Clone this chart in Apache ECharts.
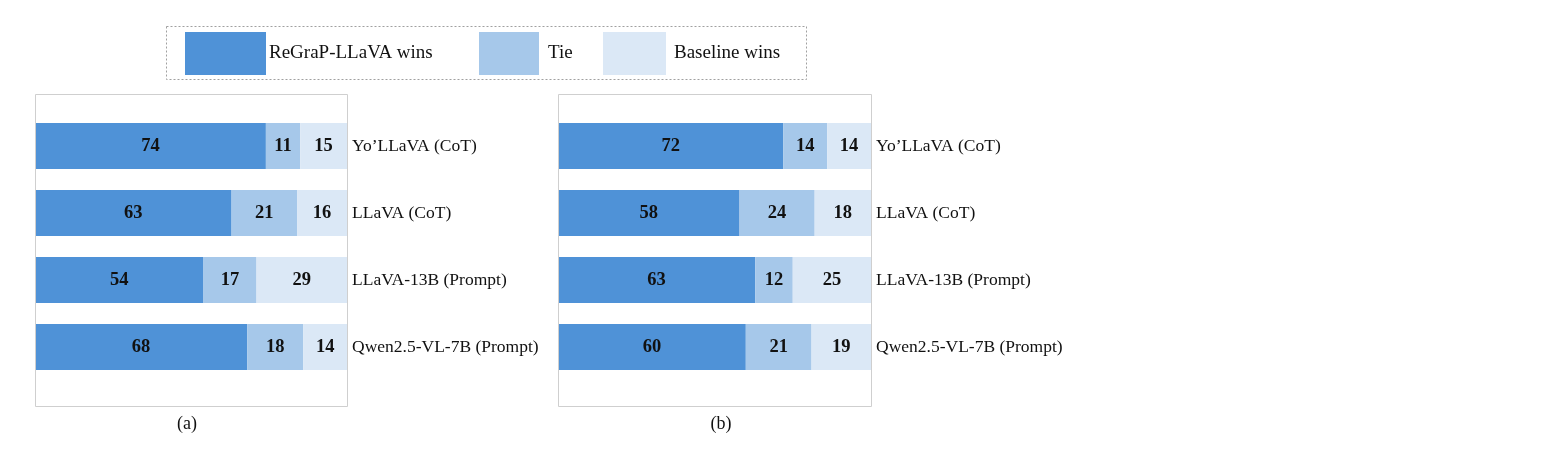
<!DOCTYPE html>
<html>
<head>
<meta charset="utf-8">
<script src="https://cdn.jsdelivr.net/npm/echarts@6/dist/echarts.min.js"></script>
<style>html,body{margin:0;padding:0;background:#fff;}#c{width:1561px;height:455px;}</style>
</head>
<body>
<div id="c"></div>
<script>
const categories = ["Yo\u2019LLaVA (CoT)", "LLaVA (CoT)", "LLaVA-13B (Prompt)", "Qwen2.5-VL-7B (Prompt)"];
const seriesNames = ["ReGraP-LLaVA wins", "Tie", "Baseline wins"];
const winsA = [74, 63, 54, 68];
const tieA = [11, 21, 17, 18];
const baseA = [15, 16, 29, 14];
const winsB = [72, 58, 63, 60];
const tieB = [14, 24, 12, 21];
const baseB = [14, 18, 25, 19];
const panelLabels = ["(a)", "(b)"];

const colors = ["#4f92d7", "#a6c8ea", "#dbe8f6"];
const FONT = "Liberation Serif";

const panels = [
  {left: 35, width: 312, data: [winsA, tieA, baseA]},
  {left: 558, width: 313, data: [winsB, tieB, baseB]}
];
const gridTop = 112.5, gridH = 268;

const grids = [], xAxes = [], yAxes = [], series = [], graphics = [];
panels.forEach((p, i) => {
  grids.push({left: p.left, width: p.width, top: gridTop, height: gridH, containLabel: false});
  xAxes.push({type: 'value', gridIndex: i, min: 0, max: 100, show: false});
  yAxes.push({type: 'category', gridIndex: i, data: categories, inverse: true, position: 'right',
    axisLine: {show: false}, axisTick: {show: false}, splitLine: {show: false},
    axisLabel: {margin: 5, color: '#111', fontFamily: FONT, fontSize: 17.5, align: 'left'}});
  p.data.forEach((vals, k) => {
    series.push({type: 'bar', name: seriesNames[k], xAxisIndex: i, yAxisIndex: i, stack: 'p' + i,
      data: vals, barWidth: 46, itemStyle: {color: colors[k]},
      label: {show: true, position: 'inside', color: '#111', fontFamily: FONT, fontWeight: 'bold', fontSize: 18.5},
      emphasis: {disabled: true}});
  });
  graphics.push({type: 'rect', shape: {x: p.left + 0.5, y: 94.5, width: p.width, height: 312},
    style: {fill: null, stroke: '#cfcfcf', lineWidth: 1}, z: 10});
});
graphics.push({type: 'rect', shape: {x: 166.5, y: 26.5, width: 640, height: 53},
  style: {fill: null, stroke: '#a0a0a0', lineWidth: 1, lineDash: [2, 2]}, z: 10});

const legendText = {color: '#111', fontFamily: FONT, fontSize: 19};
const option = {
  backgroundColor: '#fff',
  animation: false,
  grid: grids,
  xAxis: xAxes,
  yAxis: yAxes,
  series: series,
  graphic: graphics,
  title: [
    {text: panelLabels[0], left: 182, top: 410, textAlign: 'center', textStyle: {fontFamily: FONT, fontWeight: 'normal', fontSize: 18, color: '#111'}},
    {text: panelLabels[1], left: 716, top: 410, textAlign: 'center', textStyle: {fontFamily: FONT, fontWeight: 'normal', fontSize: 18, color: '#111'}}
  ],
  legend: [
    {data: [seriesNames[0]], left: 185, top: 32, padding: 0, itemWidth: 81, itemHeight: 43, icon: 'rect', textStyle: Object.assign({}, legendText, {padding: [0, 0, 0, -2]}), selectedMode: false},
    {data: [seriesNames[1]], left: 479, top: 32, padding: 0, itemWidth: 60, itemHeight: 43, icon: 'rect', textStyle: Object.assign({}, legendText, {padding: [0, 0, 0, 4]}), selectedMode: false},
    {data: [seriesNames[2]], left: 603, top: 32, padding: 0, itemWidth: 63, itemHeight: 43, icon: 'rect', textStyle: Object.assign({}, legendText, {padding: [0, 0, 0, 3]}), selectedMode: false}
  ]
};
const chart = echarts.init(document.getElementById('c'), null, {renderer: 'canvas'});
chart.setOption(option);
</script>
</body>
</html>
